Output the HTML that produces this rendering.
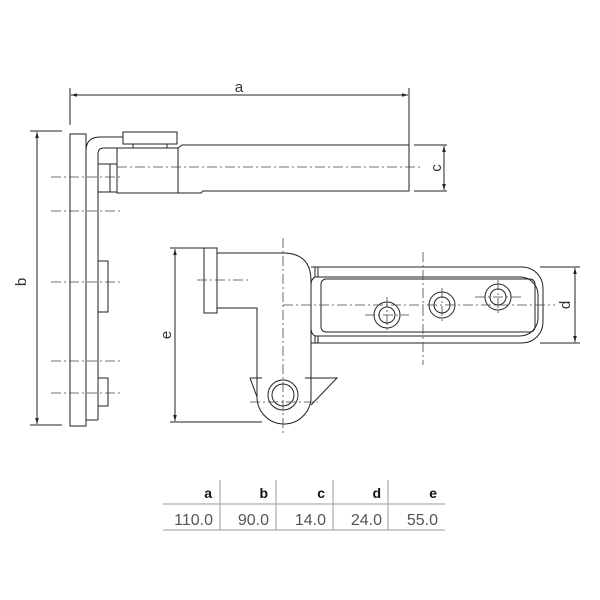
<!DOCTYPE html>
<html><head><style>
html,body{margin:0;padding:0;background:#fff;}
svg{display:block;}
text{font-family:"Liberation Sans",sans-serif;}
</style></head><body>
<svg width="600" height="600" viewBox="0 0 600 600" xmlns="http://www.w3.org/2000/svg">
<defs>
<marker id="ar" viewBox="0 0 10 10" refX="10" refY="5" markerWidth="8" markerHeight="6" orient="auto-start-reverse"><path d="M0,2 L10,5 L0,8 z" fill="#222"/></marker>
</defs>
<g fill="none" stroke="#222" stroke-width="1">
<line x1="70" y1="88" x2="70" y2="125"/>
<line x1="409" y1="88" x2="409" y2="145"/>
<line x1="71" y1="95" x2="408" y2="95" marker-start="url(#ar)" marker-end="url(#ar)"/>
<line x1="30" y1="131" x2="62" y2="131"/>
<line x1="30" y1="425" x2="62" y2="425"/>
<line x1="37" y1="132" x2="37" y2="424" marker-start="url(#ar)" marker-end="url(#ar)"/>
<line x1="414" y1="145" x2="447" y2="145"/>
<line x1="414" y1="191" x2="447" y2="191"/>
<line x1="444" y1="146" x2="444" y2="190" marker-start="url(#ar)" marker-end="url(#ar)"/>
<rect x="70" y="134" width="16" height="292"/>
<path d="M86,420 L86,151 Q86,137 100,137 L123,137"/>
<path d="M98,420 L98,154 Q98,148 104,148 L117,148"/>
<line x1="86" y1="420" x2="98" y2="420"/>
<rect x="98" y="261" width="10" height="51"/>
<rect x="98" y="378" width="10" height="28"/>
<rect x="123" y="132" width="54" height="12"/>
<line x1="133" y1="144" x2="133" y2="148"/><line x1="167" y1="144" x2="167" y2="148"/>
<rect x="117" y="148" width="61" height="45"/>
<rect x="98" y="164" width="19" height="28"/>
<line x1="110" y1="164" x2="110" y2="192"/>
<path d="M178,148 L182,145 L409,145 L409,191 L203,191 L201,193 L178,193"/>
<rect x="204" y="248" width="13" height="65"/>
<path d="M217,253 L283,253 Q311,253 311,281 L311,397"/>
<path d="M217,308 L257,308 L257,397"/>
<path d="M257,397 A27,27 0 0 0 311,397"/>
<circle cx="283" cy="395" r="15"/>
<circle cx="283" cy="395" r="11"/>
<path d="M250,378 L262,378 M250,378 L257,397"/>
<path d="M305,378 L337,378 L311,405"/>
<line x1="170" y1="248" x2="215" y2="248"/>
<line x1="170" y1="422" x2="262" y2="422"/>
<line x1="175" y1="249" x2="175" y2="421" marker-start="url(#ar)" marker-end="url(#ar)"/>
<path d="M311,267 L522,267 A21,21 0 0 1 543,288 L543,322 A21,21 0 0 1 522,343 L311,343"/>
<path d="M315,277 L520,277 A18,18 0 0 1 538,295 L538,318 A18,18 0 0 1 520,336 L315,336"/>
<line x1="315" y1="267" x2="315" y2="277"/><line x1="318" y1="267" x2="318" y2="277"/>
<line x1="315" y1="336" x2="315" y2="343"/><line x1="318" y1="336" x2="318" y2="343"/>
<path d="M315,277 Q311,279 311,285 M315,336 Q311,334 311,328"/>
<rect x="321" y="279" width="214" height="53" rx="5"/>
<circle cx="387" cy="315" r="13"/><circle cx="387" cy="315" r="8"/>
<circle cx="442" cy="305" r="13"/><circle cx="442" cy="305" r="8"/>
<circle cx="498" cy="297" r="13"/><circle cx="498" cy="297" r="8"/>
<line x1="540" y1="267" x2="580" y2="267"/>
<line x1="540" y1="343" x2="580" y2="343"/>
<line x1="575" y1="268" x2="575" y2="342" marker-start="url(#ar)" marker-end="url(#ar)"/>
</g>
<g fill="none" stroke="#444" stroke-width="0.8" stroke-dasharray="10,3,2,3">
<line x1="117" y1="167" x2="420" y2="167"/>
<line x1="51" y1="177" x2="122" y2="177"/>
<line x1="51" y1="211" x2="122" y2="211"/>
<line x1="51" y1="282" x2="122" y2="282"/>
<line x1="51" y1="361" x2="122" y2="361"/>
<line x1="51" y1="393" x2="122" y2="393"/>
<line x1="197" y1="280" x2="250" y2="280"/>
<line x1="283" y1="238" x2="283" y2="435"/>
<line x1="283" y1="305" x2="555" y2="305"/>
<line x1="423" y1="252" x2="423" y2="365"/>
<line x1="250" y1="402" x2="318" y2="402"/>
<line x1="365" y1="315" x2="409" y2="315"/>
<line x1="387" y1="297" x2="387" y2="333"/>
<line x1="442" y1="288" x2="442" y2="322"/>
<line x1="475" y1="297" x2="521" y2="297"/>
<line x1="498" y1="280" x2="498" y2="314"/>
</g>
<g fill="#333" font-size="15">
<text x="239" y="92" text-anchor="middle">a</text>
<text transform="translate(26,282) rotate(-90)" text-anchor="middle">b</text>
<text transform="translate(441,168) rotate(-90)" text-anchor="middle">c</text>
<text transform="translate(171,335) rotate(-90)" text-anchor="middle">e</text>
<text transform="translate(570,305) rotate(-90)" text-anchor="middle">d</text>
</g>
<g stroke="#999" stroke-width="1">
<line x1="163" y1="504" x2="445" y2="504"/>
<line x1="163" y1="530" x2="445" y2="530"/>
<line x1="220" y1="480" x2="220" y2="530"/>
<line x1="276" y1="480" x2="276" y2="530"/>
<line x1="333" y1="480" x2="333" y2="530"/>
<line x1="388" y1="480" x2="388" y2="530"/>
</g>
<g font-size="14" font-weight="bold" fill="#111" text-anchor="end">
<text x="212" y="498">a</text><text x="268" y="498">b</text><text x="325" y="498">c</text><text x="381" y="498">d</text><text x="437" y="498">e</text>
</g>
<g font-size="16" fill="#555" text-anchor="end">
<text x="213" y="525">110.0</text><text x="269" y="525">90.0</text><text x="326" y="525">14.0</text><text x="382" y="525">24.0</text><text x="438" y="525">55.0</text>
</g>
</svg>
</body></html>
